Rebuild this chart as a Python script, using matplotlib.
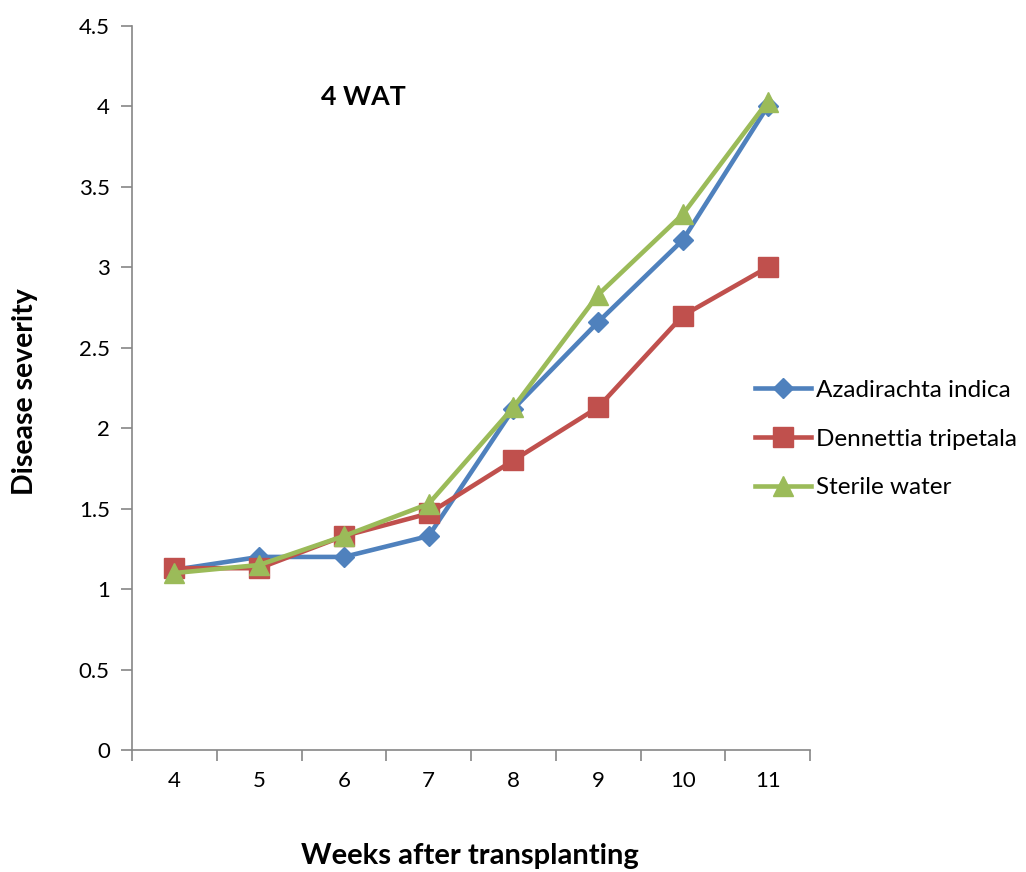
import numpy as np
import matplotlib
matplotlib.use("Agg")
import matplotlib.pyplot as plt

# data
weeks = ["4", "5", "6", "7", "8", "9", "10", "11"]
azadirachta = [1.12, 1.2, 1.2, 1.33, 2.12, 2.66, 3.17, 4.0]
dennettia = [1.13, 1.13, 1.33, 1.47, 1.8, 2.13, 2.7, 3.0]
sterile = [1.1, 1.15, 1.33, 1.53, 2.13, 2.83, 3.33, 4.03]
series_names = ["Azadirachta indica", "Dennettia tripetala", "Sterile water"]

blue = "#4F81BD"
red = "#C0504D"
green = "#9BBB59"
axis_col = "#868686"

plt.rcParams['font.family'] = ['Lato', 'DejaVu Sans']

fig = plt.figure(figsize=(10.26, 8.72), dpi=100)
ax = fig.add_axes([132/1026, 1-750/872, (810-132)/1026, (750-26)/872])

x = np.arange(len(weeks))
ax.plot(x, azadirachta, color=blue, lw=3.3, marker="D", ms=10, label=series_names[0])
ax.plot(x, dennettia, color=red, lw=3.3, marker="s", ms=14, label=series_names[1])
ax.plot(x, sterile, color=green, lw=3.3, marker="^", ms=15, label=series_names[2])

ax.set_xlim(-0.5, len(weeks) - 0.5)
ax.set_ylim(0, 4.5)
ax.set_yticks(np.arange(0, 4.51, 0.5))
ax.set_yticklabels(["0", "0.5", "1", "1.5", "2", "2.5", "3", "3.5", "4", "4.5"])
ax.set_xticks(x)
ax.set_xticklabels(weeks)
ax.set_xticks(np.arange(-0.5, len(weeks), 1), minor=True)
ax.tick_params(axis="x", which="major", length=0, pad=15, labelsize=16)
ax.tick_params(axis="x", which="minor", length=8, color=axis_col, width=1.2, direction="out")
ax.tick_params(axis="y", length=8, color=axis_col, width=1.2, pad=8, labelsize=16)

for s in ["top", "right"]:
    ax.spines[s].set_visible(False)
for s in ["left", "bottom"]:
    ax.spines[s].set_color(axis_col)
    ax.spines[s].set_linewidth(1.2)

fig.text(25/1026, 1-392/872, "Disease severity", rotation=90, ha="center", va="center",
         fontsize=20.5, fontweight="bold")
fig.text(470/1026, 1-856/872, "Weeks after transplanting", ha="center", va="center",
         fontsize=21, fontweight="bold")
fig.text(363/1026, 1-97/872, "4 WAT", ha="center", va="center", fontsize=19.3, fontweight="bold")

ax.legend(loc="center left", bbox_to_anchor=(755/1026, 1-439/872), bbox_transform=fig.transFigure,
          frameon=False, fontsize=17.5, handlelength=2.3, handletextpad=0.2, labelspacing=1.15,
          borderpad=0, borderaxespad=0)

fig.savefig("out.png", dpi=100)
